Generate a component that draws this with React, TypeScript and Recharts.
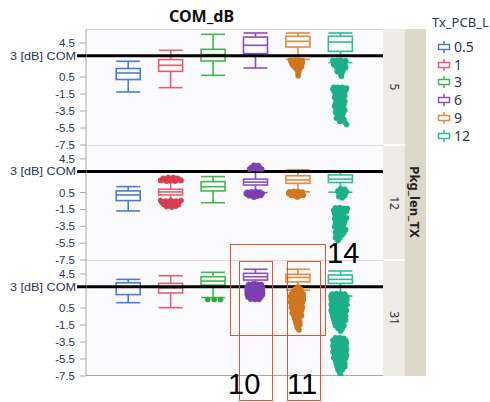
import React from 'react';
import { ComposedChart, Bar, Scatter, XAxis, YAxis, ReferenceLine } from 'recharts';

const categories = ['0.5', '1', '3', '6', '9', '12'];
const pkgLens = ['5', '12', '31'];
const yTicks = [-7.5, -5.5, -3.5, -1.5, 0.5, 3, 4.5];
const comLimit = 3;

const boxColors = ['#4a7bd6', '#e0606e', '#3fb94f', '#8c4cc2', '#e08b3f', '#2ebd97'];
const dotColors = ['#3f6fd0', '#d63f50', '#33a83a', '#7e3fb3', '#d0761f', '#1bb08a'];

// [low whisker, q1, median, q3, high whisker] for each Tx_PCB_L
const stats5 = [
  [-1.26, 0.2, 0.97, 1.5, 2.35],
  [-0.75, 1.17, 1.88, 2.55, 3.64],
  [0.7, 2.38, 3.13, 3.76, 5.52],
  [1.56, 3.25, 4.23, 5.2, 5.68],
  [2.58, 4.03, 4.7, 5.29, 5.68],
  [2.19, 3.52, 4.62, 5.29, 5.68],
];
const stats12 = [
  [-1.68, -0.45, 0.22, 0.7, 1.21],
  [-0.37, 0.22, 0.58, 0.9, 1.8],
  [-0.7, 0.7, 1.2, 1.8, 2.4],
  [0.5, 1.4, 1.74, 2.1, 3.1],
  [0.6, 1.6, 2.0, 2.5, 3.2],
  [0.55, 1.7, 2.1, 2.6, 3.0],
];
const stats31 = [
  [1.13, 2.08, 3.0, 3.47, 3.87],
  [0.54, 2.27, 2.87, 3.4, 4.3],
  [1.73, 3.19, 3.67, 4.18, 4.7],
  [3.1, 3.79, 4.18, 4.58, 5.06],
  [2.6, 3.58, 4.1, 4.46, 5.06],
  [1.9, 3.4, 3.87, 4.38, 4.86],
];

// outliers: [jitter, value]
const out5Orange = [
  [-0.18, 2.5], [-0.08, 2.52], [0.02, 2.5], [0.1, 2.45], [-0.16, 2.25], [-0.06, 2.3], [0.04, 2.25], [0.1, 2.15],
  [-0.14, 2.0], [-0.04, 2.05], [0.06, 1.95], [-0.1, 1.75], [0.0, 1.8], [0.08, 1.7], [-0.06, 1.55], [0.04, 1.5],
  [-0.02, 1.3], [0.02, 1.15], [0.0, 0.95], [0.0, 0.65],
];
const out5Teal = [
  [-0.18, 2.45], [-0.08, 2.5], [0.02, 2.45], [0.12, 2.4], [-0.14, 2.2], [-0.04, 2.25], [0.06, 2.15], [-0.16, 1.95],
  [-0.06, 2.0], [0.1, 1.9], [-0.1, 1.7], [0.02, 1.75], [0.12, 1.6], [-0.04, 1.45], [0.06, 1.35], [-0.08, 1.15],
  [0.04, 1.05], [0.0, 0.85], [0.02, 0.6],
  [-0.16, -0.7], [-0.06, -0.72], [0.04, -0.7], [0.14, -0.8], [-0.18, -0.95], [-0.08, -1.0], [0.02, -0.95], [0.12, -1.05],
  [-0.14, -1.3], [-0.04, -1.25], [0.08, -1.35], [-0.1, -1.6], [0.0, -1.55], [0.1, -1.7], [-0.14, -1.9], [-0.04, -1.95],
  [0.06, -2.0], [-0.1, -2.25], [0.02, -2.3], [0.1, -2.35], [-0.12, -2.6], [-0.02, -2.65], [0.08, -2.7], [-0.14, -2.95],
  [-0.04, -3.0], [0.06, -3.05], [-0.1, -3.3], [0.0, -3.35], [0.1, -3.4], [-0.12, -3.65], [-0.02, -3.7], [0.06, -3.8],
  [-0.08, -4.05], [0.04, -4.1], [-0.1, -4.35], [0.0, -4.4], [0.08, -4.5], [-0.02, -4.7], [0.1, -4.8], [0.14, -5.1],
];

const out12Red = [
  [-0.24, 1.95], [-0.14, 2.05], [-0.04, 2.1], [0.06, 2.1], [0.16, 2.05], [0.24, 1.95], [-0.18, 2.2], [-0.06, 2.3],
  [0.06, 2.3], [0.16, 2.2], [-0.1, 1.85], [0.0, 1.9], [0.1, 1.85],
  [-0.24, -0.45], [-0.12, -0.5], [0.0, -0.45], [0.12, -0.5], [0.24, -0.45], [-0.2, -0.7], [-0.08, -0.75], [0.04, -0.7],
  [0.16, -0.75], [-0.16, -0.95], [-0.04, -1.0], [0.08, -0.95], [0.18, -0.9], [-0.1, -1.15], [0.02, -1.2], [0.12, -1.1],
];
const out12Purple = [
  [-0.04, 3.75], [0.06, 3.7], [-0.1, 3.5], [0.0, 3.55], [0.1, 3.45], [-0.14, 3.3], [0.14, 3.3], [-0.04, 3.35], [0.06, 3.3],
  [-0.2, 0.55], [-0.1, 0.6], [0.0, 0.62], [0.1, 0.58], [-0.22, 0.35], [-0.12, 0.3], [-0.02, 0.35], [0.08, 0.3],
  [0.15, 0.38], [-0.16, 0.12], [-0.06, 0.08], [0.04, 0.1], [0.12, 0.15], [-0.04, -0.05],
];
const out12Orange = [
  [-0.2, 0.6], [-0.1, 0.65], [0.0, 0.62], [0.1, 0.58], [-0.22, 0.4], [-0.12, 0.35], [-0.02, 0.38], [0.08, 0.35],
  [-0.16, 0.15], [-0.06, 0.1], [0.04, 0.12], [0.12, 0.2], [-0.02, -0.02],
];
const out12Teal = [
  [0.0, 0.95], [0.1, 0.9], [-0.06, 0.7], [0.06, 0.72], [0.14, 0.6], [-0.04, 0.45], [0.08, 0.4], [0.0, 0.2],
  [0.1, 0.15], [-0.04, 0.0], [0.04, -0.1],
  [-0.12, -1.3], [-0.02, -1.28], [0.08, -1.35], [0.16, -1.4], [-0.16, -1.6], [-0.06, -1.62], [0.04, -1.6], [0.14, -1.7],
  [-0.14, -1.95], [-0.04, -1.9], [0.06, -2.0], [-0.12, -2.25], [-0.02, -2.3], [0.08, -2.25], [-0.14, -2.6], [-0.04, -2.55],
  [0.06, -2.6], [0.14, -2.5], [-0.1, -2.9], [0.0, -2.9], [0.1, -2.95], [-0.12, -3.2], [-0.02, -3.25], [0.08, -3.2],
  [-0.14, -3.55], [-0.04, -3.5], [0.06, -3.6], [-0.08, -3.9], [0.02, -3.85], [0.12, -3.9], [-0.12, -4.2], [-0.02, -4.2],
  [0.08, -4.25], [-0.08, -4.55], [0.04, -4.5], [-0.12, -4.85], [-0.02, -4.9], [-0.06, -5.2],
];

const out31Green = [[-0.13, 1.5], [0.02, 1.5], [0.17, 1.5]];
const out31Purple = [
  [-0.16, 3.3], [-0.06, 3.35], [0.04, 3.3], [0.13, 3.25],
  [-0.2, 3.0], [-0.1, 3.05], [0.0, 3.0], [0.1, 3.02], [0.16, 2.95],
  [-0.2, 2.7], [-0.1, 2.72], [0.0, 2.68], [0.1, 2.7], [0.16, 2.65],
  [-0.2, 2.4], [-0.1, 2.38], [0.0, 2.42], [0.1, 2.4], [0.16, 2.35],
  [-0.2, 2.1], [-0.1, 2.12], [0.0, 2.08], [0.1, 2.1], [0.16, 2.05],
  [-0.18, 1.8], [-0.08, 1.78], [0.02, 1.82], [0.12, 1.8],
  [-0.12, 1.55], [-0.02, 1.5], [0.08, 1.52],
];
const out31Orange = [
  [0.0, 3.0], [-0.06, 2.75], [0.06, 2.7], [-0.12, 2.45], [-0.02, 2.5], [0.08, 2.4], [-0.16, 2.15], [-0.06, 2.2],
  [0.04, 2.1], [0.12, 2.15], [-0.18, 1.85], [-0.08, 1.9], [0.02, 1.8], [0.12, 1.85], [-0.16, 1.55], [-0.06, 1.5],
  [0.04, 1.55], [0.12, 1.45], [-0.18, 1.2], [-0.08, 1.25], [0.02, 1.2], [0.1, 1.15], [-0.14, 0.9], [-0.04, 0.85],
  [0.06, 0.9], [-0.16, 0.55], [-0.06, 0.6], [0.04, 0.5], [0.1, 0.6], [-0.12, 0.25], [-0.02, 0.2], [0.08, 0.25],
  [-0.14, -0.1], [-0.04, -0.05], [0.06, -0.1], [-0.1, -0.4], [0.0, -0.45], [0.08, -0.4], [-0.08, -0.75], [0.02, -0.8],
  [-0.06, -1.1], [0.04, -1.15], [-0.04, -1.45], [0.04, -1.5], [-0.02, -1.8], [0.02, -2.1],
];
const out31Teal = [
  [-0.2, 2.15], [-0.1, 2.2], [0.0, 2.18], [0.1, 2.15], [-0.22, 1.9], [-0.12, 1.85], [-0.02, 1.9], [0.08, 1.88],
  [0.15, 1.8], [-0.22, 1.55], [-0.12, 1.6], [-0.02, 1.5], [0.08, 1.55], [0.15, 1.5], [-0.2, 1.2], [-0.1, 1.25],
  [0.0, 1.2], [0.1, 1.15], [-0.22, 0.9], [-0.12, 0.85], [-0.02, 0.9], [0.08, 0.85], [0.15, 0.9], [-0.2, 0.55],
  [-0.1, 0.5], [0.0, 0.55], [0.1, 0.5], [-0.22, 0.2], [-0.12, 0.15], [-0.02, 0.2], [0.08, 0.15], [0.14, 0.22],
  [-0.2, -0.15], [-0.1, -0.2], [0.0, -0.15], [0.1, -0.2], [-0.18, -0.5], [-0.08, -0.55], [0.02, -0.5], [0.12, -0.5],
  [-0.16, -0.85], [-0.06, -0.9], [0.04, -0.85], [0.12, -0.9], [-0.14, -1.2], [-0.04, -1.25], [0.06, -1.2],
  [-0.12, -1.55], [-0.02, -1.6], [0.08, -1.55], [-0.06, -1.9], [0.04, -1.95], [0.0, -2.2],
  [-0.12, -3.0], [-0.02, -2.98], [0.08, -3.05], [-0.18, -3.3], [-0.08, -3.3], [0.02, -3.35], [0.12, -3.3],
  [-0.16, -3.65], [-0.06, -3.6], [0.04, -3.65], [0.14, -3.6], [-0.18, -3.95], [-0.08, -4.0], [0.02, -3.95],
  [0.12, -4.0], [-0.16, -4.3], [-0.06, -4.35], [0.04, -4.3], [0.14, -4.35], [-0.18, -4.65], [-0.08, -4.7],
  [0.02, -4.65], [0.12, -4.7], [-0.14, -5.0], [-0.04, -5.05], [0.06, -5.0], [0.14, -5.05], [-0.16, -5.35],
  [-0.06, -5.4], [0.04, -5.35], [0.12, -5.4], [-0.12, -5.7], [-0.02, -5.75], [0.08, -5.7], [-0.1, -6.05],
  [0.0, -6.1], [0.1, -6.05], [-0.08, -6.4], [0.02, -6.45], [0.1, -6.4], [-0.06, -6.75], [0.04, -6.8],
  [-0.02, -7.1], [0.0, -7.45],
];

const outliers5 = [[], [], [], [], out5Orange, out5Teal];
const outliers12 = [[], out12Red, [], out12Purple, out12Orange, out12Teal];
const outliers31 = [[], [], out31Green, out31Purple, out31Orange, out31Teal];

const panels = [
  { stats: stats5, outliers: outliers5, top: 29, height: 116 },
  { stats: stats12, outliers: outliers12, top: 145, height: 115 },
  { stats: stats31, outliers: outliers31, top: 260, height: 116 },
];

const FONT = '"Noto Sans", "Open Sans", sans-serif';
const TICK_FONT = '"Liberation Sans", Arial, sans-serif';
const PLOT_LEFT = 86;
const PLOT_RIGHT = 383;

const BoxShape = (props: any) => {
  const { x, y, width, height, payload } = props;
  const [lo, q1, med, q3, hi] = payload.q;
  const top = Math.min(y, y + height);
  const bot = Math.max(y, y + height);
  const py = (v: number) => bot - ((v - lo) / (hi - lo)) * (bot - top);
  const cx = x + width / 2;
  const c = boxColors[payload.ci];
  return (
    <g stroke={c} strokeWidth={1.6} fill="none">
      <line x1={cx} x2={cx} y1={py(hi)} y2={py(q3)} />
      <line x1={cx} x2={cx} y1={py(q1)} y2={py(lo)} />
      <line x1={x} x2={x + width} y1={py(hi)} y2={py(hi)} />
      <line x1={x} x2={x + width} y1={py(lo)} y2={py(lo)} />
      <rect x={x} y={py(q3)} width={width} height={py(q1) - py(q3)} fill="#fff" fillOpacity={0.5} />
      <line x1={x} x2={x + width} y1={py(med)} y2={py(med)} />
    </g>
  );
};

const YTick = (props: any) => {
  const { x, y, payload } = props;
  const isCom = payload.value === comLimit;
  return (
    <g>
      {isCom && <line x1={x - 1} x2={x + 8} y1={y} y2={y} stroke="#000" strokeWidth={3} />}
      {isCom ? (
        <text x={x - 2} y={y} dy="0.35em" textAnchor="end" fontSize={11} fill="#2b3650" fontFamily={TICK_FONT} textLength={66} lengthAdjust="spacingAndGlyphs">
          3 [dB] COM
        </text>
      ) : (
        <text x={x - 3} y={y} dy="0.35em" textAnchor="end" fontSize={11.5} fill="#2b3650" fontFamily={TICK_FONT}>
          {payload.value}
        </text>
      )}
    </g>
  );
};

const Panel = ({ stats, outliers, top, height }: any) => {
  const rows = categories.map((c, i) => ({ cat: c, ci: i, range: [stats[i][0], stats[i][4]], q: stats[i] }));
  return (
    <div style={{ position: 'absolute', left: 0, top: top - 8 }}>
      <ComposedChart
        width={PLOT_RIGHT + 4}
        height={height + 16}
        data={rows}
        margin={{ top: 8, right: 4, bottom: 8, left: 0 }}
      >
        <XAxis dataKey="cat" type="category" hide padding={{ left: 21.2, right: 21.2 }} />
        <XAxis xAxisId="num" dataKey="x" type="number" domain={[-1, 6]} hide allowDataOverflow />
        <YAxis
          domain={[-7.5, 6.15]}
          ticks={yTicks}
          interval={0}
          width={PLOT_LEFT}
          allowDataOverflow
          axisLine={{ stroke: '#a8a8a8' }}
          tickLine={{ stroke: '#a8a8a8' }}
          tick={(p: any) => <YTick {...p} />}
        />
        <ReferenceLine y={comLimit} stroke="#000" strokeWidth={3} />
        <Bar dataKey="range" barSize={24} shape={BoxShape} isAnimationActive={false} />
        {outliers.map((pts: number[][], i: number) =>
          pts.length ? (
            <Scatter
              key={i}
              xAxisId="num"
              dataKey="y"
              data={pts.map(([dx, v]) => ({ x: i + dx, y: v }))}
              fill={dotColors[i]}
              isAnimationActive={false}
              shape={(p: any) => <circle cx={p.cx} cy={p.cy} r={2.8} fill={dotColors[i]} />}
            />
          ) : null
        )}
      </ComposedChart>
    </div>
  );
};

const LegendGlyph = ({ color }: { color: string }) => (
  <svg width={14} height={14} style={{ position: 'absolute', left: 437, top: -7 }}>
    <line x1={7} x2={7} y1={1} y2={13} stroke={color} strokeWidth={1.5} />
    <rect x={1.5} y={4.5} width={11} height={5} fill="#fff" stroke={color} strokeWidth={1.5} />
  </svg>
);

const redBox = (left: number, top: number, w: number, h: number) => ({
  position: 'absolute' as const,
  left,
  top,
  width: w,
  height: h,
  border: '1.5px solid #f0502d',
  boxSizing: 'border-box' as const,
});

const bigNum = (left: number, top: number) => ({
  position: 'absolute' as const,
  left,
  top,
  fontFamily: '"Liberation Sans", Arial, sans-serif',
  fontSize: 29,
  lineHeight: 1,
  color: '#000',
});

export default function App() {
  const panelMid = panels.map((p) => p.top + p.height / 2);
  return (
    <div style={{ position: 'absolute', left: 0, top: 0, width: 490, height: 402, background: '#fff', overflow: 'hidden', fontFamily: FONT }}>
      <div style={{ position: 'absolute', left: 169, top: 5, fontSize: 16, fontWeight: 700, color: '#111' }}>COM_dB</div>

      {/* plot background and panel frames */}
      <div style={{ position: 'absolute', left: PLOT_LEFT, top: 29, width: PLOT_RIGHT - PLOT_LEFT, height: 347, background: '#fbfbfd', borderTop: '1px solid #d4d4d4', borderBottom: '1px solid #a8a8a8', boxSizing: 'border-box' }} />
      {panels.slice(1).map((p, i) => (
        <div key={i} style={{ position: 'absolute', left: PLOT_LEFT, top: p.top, width: PLOT_RIGHT - PLOT_LEFT, height: 1, background: '#dadada' }} />
      ))}

      {panels.map((p, i) => (
        <Panel key={i} {...p} />
      ))}

      {/* strips */}
      <div style={{ position: 'absolute', left: PLOT_RIGHT, top: 29, width: 22, height: 347, background: '#ecebe4' }} />
      {panels.slice(1).map((p, i) => (
        <div key={i} style={{ position: 'absolute', left: PLOT_RIGHT, top: p.top - 1, width: 22, height: 2, background: '#fff' }} />
      ))}
      <div style={{ position: 'absolute', left: 405, top: 29, width: 21, height: 347, background: '#dbd8ca' }} />
      {pkgLens.map((l, i) => (
        <div key={l} style={{ position: 'absolute', left: 394, top: panelMid[i], transform: 'translate(-50%, -50%) rotate(90deg)', fontSize: 12, color: '#333', whiteSpace: 'nowrap' }}>{l}</div>
      ))}
      <div style={{ position: 'absolute', left: 415, top: 202, transform: 'translate(-50%, -50%) rotate(90deg)', fontSize: 13, fontWeight: 700, color: '#222', whiteSpace: 'nowrap' }}>Pkg_len_TX</div>

      {/* legend */}
      <div style={{ position: 'absolute', left: 432, top: 13, fontSize: 13, color: '#2b3650', whiteSpace: 'nowrap' }}>Tx_PCB_L</div>
      {categories.map((c, i) => (
        <div key={c} style={{ position: 'absolute', left: 0, top: 46.7 + i * 17.8 }}>
          <LegendGlyph color={boxColors[i]} />
          <div style={{ position: 'absolute', left: 454, top: -10, fontSize: 14, lineHeight: '20px', color: '#2b3650' }}>{c}</div>
        </div>
      ))}

      {/* annotations */}
      <div style={redBox(230, 244, 96, 92)} />
      <div style={redBox(239, 261, 34, 140)} />
      <div style={redBox(287, 261, 34, 140)} />
      <div style={bigNum(327, 239)}>14</div>
      <div style={bigNum(228, 370)}>10</div>
      <div style={bigNum(287, 370)}>11</div>
    </div>
  );
}
